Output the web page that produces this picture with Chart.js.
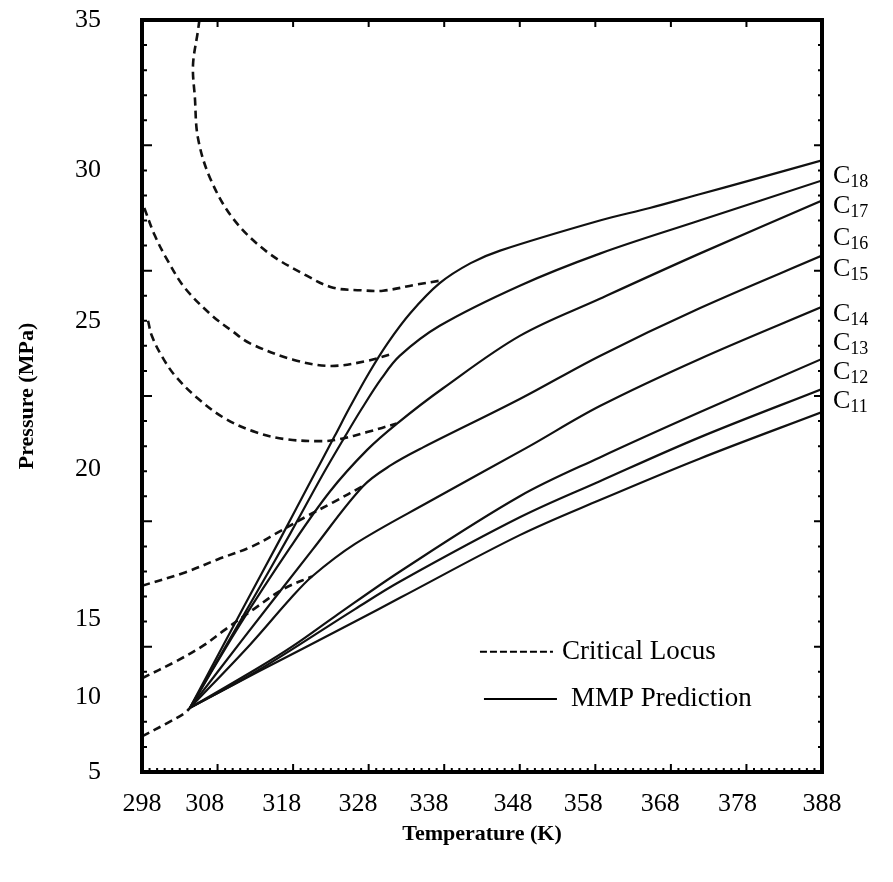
<!DOCTYPE html>
<html>
<head>
<meta charset="utf-8">
<title>MMP Prediction vs Temperature</title>
<script src="https://cdn.jsdelivr.net/npm/chart.js@4.4.1/dist/chart.umd.min.js"></script>
<style>
  html, body { margin: 0; padding: 0; background: #fff; }
</style>
</head>
<body>
<canvas id="mmpChart" width="893" height="882"></canvas>
<script>
// 目盛ラベル
const xTickLabels = ['298', '308', '318', '328', '338', '348', '358', '368', '378', '388'];
const yTickLabels = ['5', '10', '15', '20', '25', '30', '35'];

// MMP prediction  [T (K), P (MPa)]
const mmpC18 = [[304.35, 7.56], [311.4, 11.55], [316.3, 14.3], [320.5, 16.7], [323.5, 18.4], [325.5, 19.55], [328, 20.9], [330.5, 22.1], [333.5, 23.3], [337.4, 24.5], [341.5, 25.3], [345.4, 25.8], [358.6, 27.0], [365.2, 27.5], [371.8, 28.05], [378.5, 28.6], [388, 29.4]];
const mmpC17 = [[304.35, 7.56], [312.3, 11.7], [317.6, 14.5], [321.8, 16.8], [324.9, 18.4], [327.1, 19.5], [329.7, 20.7], [332.1, 21.6], [337.4, 22.8], [348, 24.4], [358.6, 25.68], [371.8, 27.0], [388, 28.6]];
const mmpC16 = [[304.35, 7.56], [311, 10.9], [317.6, 13.95], [322.9, 16.2], [327.8, 17.85], [331.75, 18.9], [337.8, 20.3], [348, 22.4], [358.6, 23.88], [371.8, 25.68], [388, 27.8]];
const mmpC15 = [[304.35, 7.56], [311.6, 10.4], [320.6, 13.88], [327.25, 16.4], [331, 17.25], [335.2, 17.95], [348, 19.88], [358.6, 21.6], [371.8, 23.5], [388, 25.6]];
const mmpC14 = [[304.35, 7.56], [312.3, 10.08], [317.6, 11.9], [320.5, 12.8], [326.2, 14.1], [336.1, 15.8], [349, 17.95], [358.6, 19.6], [371.8, 21.48], [388, 23.56]];
const mmpC13 = [[304.35, 7.56], [313.35, 9.15], [317.85, 10.0], [323.5, 11.2], [332.15, 13.0], [348, 16.0], [358.6, 17.55], [371.8, 19.35], [388, 21.48]];
const mmpC12 = [[304.35, 7.56], [313.35, 9.05], [326.2, 11.5], [332.15, 12.6], [348, 15.16], [358.6, 16.6], [371.8, 18.35], [388, 20.28]];
const mmpC11 = [[304.35, 7.56], [313.35, 9.0], [326.2, 11.0], [332.15, 11.95], [348, 14.45], [358.6, 15.85], [371.8, 17.5], [388, 19.36]];

// Critical locus  [T (K), P (MPa)]
const locus1 = [[305.6, 35], [305.4, 34.56], [304.75, 33.2], [305.0, 31.9], [305.4, 30.3], [307.0, 28.7], [310.0, 27.1], [314.5, 25.76], [319.8, 24.8], [323.3, 24.32], [326.9, 24.22], [329.9, 24.2], [334.4, 24.45], [337.4, 24.6]];
const locus2 = [[298.3, 27.5], [299.7, 26.4], [301.4, 25.4], [303.7, 24.3], [307.3, 23.2], [309.9, 22.6], [312.3, 22.1], [318, 21.45], [322.9, 21.2], [327.8, 21.4], [331.3, 21.7]];
const locus3 = [[298.8, 23.0], [299.3, 22.4], [300.6, 21.6], [302.4, 20.8], [305.4, 19.9], [309, 19.1], [313, 18.56], [316.9, 18.28], [321.8, 18.2], [324.2, 18.28], [327.8, 18.56], [331.7, 18.9]];
const locus4 = [[298, 12.43], [303.7, 12.96], [308, 13.48], [312.6, 14.0], [316, 14.56], [319.8, 15.2], [323.3, 15.76], [327.2, 16.4]];
const locus5 = [[298, 8.74], [302.4, 9.4], [305.9, 10.0], [309, 10.68], [312.8, 11.5], [316.7, 12.3], [320.5, 12.8]];
const locus6 = [[298, 6.42], [301.4, 6.96], [303.7, 7.36], [304.35, 7.56]];

const seriesNames = ['18', '17', '16', '15', '14', '13', '12', '11'];

// ラベルを置く位置（元の図に合わせる）
const xLabelAt = [298, 306.3, 316.5, 326.6, 336.0, 347.1, 356.4, 366.6, 376.8, 388];
const yLabelAt = [5, 8, 11.08, 17.08, 23, 29, 35];
const nameAt = [28.76, 27.56, 26.28, 25.04, 23.28, 22.12, 20.96, 19.8];

const serif = '"Liberation Serif", "Times New Roman", serif';
const toXY = pts => pts.map(p => ({ x: p[0], y: p[1] }));

function solidLine(label, pts) {
  return { label: label, data: toXY(pts), borderColor: '#111', borderWidth: 2.2, showLine: true, pointRadius: 0, tension: 0.35, fill: false };
}
function dashedLine(label, pts) {
  return { label: label, data: toXY(pts), borderColor: '#111', borderWidth: 2.6, borderDash: [8, 5], showLine: true, pointRadius: 0, tension: 0.35, fill: false };
}

// 枠・目盛・凡例・系列名
const framePlugin = {
  id: 'frame',
  afterDraw(chart) {
    const { ctx, chartArea: a, scales: { x, y } } = chart;
    ctx.save();
    ctx.strokeStyle = '#000';
    ctx.lineWidth = 4;
    ctx.strokeRect(a.left, a.top, a.right - a.left, a.bottom - a.top);

    ctx.lineWidth = 2;
    ctx.beginPath();
    for (let t = 298; t <= 388; t++) {
      const px = x.getPixelForValue(t);
      const major = (t - 298) % 10 === 0;
      ctx.moveTo(px, a.bottom);
      ctx.lineTo(px, a.bottom - (major ? 8 : 4));
      if (major) {
        ctx.moveTo(px, a.top);
        ctx.lineTo(px, a.top + 7);
      }
    }
    for (let p = 5; p <= 35; p++) {
      const py = y.getPixelForValue(p);
      const major = p % 5 === 0;
      ctx.moveTo(a.left, py);
      ctx.lineTo(a.left + (major ? 10 : 5), py);
      ctx.moveTo(a.right, py);
      ctx.lineTo(a.right - (major ? 8 : 4), py);
    }
    ctx.stroke();

    // 凡例
    const lx = a.left + (a.right - a.left) * 0.497;
    const ly1 = a.top + (a.bottom - a.top) * 0.84;
    const ly2 = a.top + (a.bottom - a.top) * 0.903;
    ctx.lineWidth = 2;
    ctx.setLineDash([7, 3]);
    ctx.beginPath();
    ctx.moveTo(lx, ly1);
    ctx.lineTo(lx + 73, ly1);
    ctx.stroke();
    ctx.setLineDash([]);
    ctx.beginPath();
    ctx.moveTo(lx + 4, ly2);
    ctx.lineTo(lx + 77, ly2);
    ctx.stroke();
    ctx.fillStyle = '#000';
    ctx.font = '27px ' + serif;
    ctx.textBaseline = 'middle';
    ctx.textAlign = 'left';
    ctx.fillText('Critical Locus', lx + 82, ly1);
    ctx.fillText('MMP Prediction', lx + 91, ly2);

    // C11〜C18
    seriesNames.forEach((n, i) => {
      const py = y.getPixelForValue(nameAt[i]);
      const cx = a.right + 11;
      ctx.font = '26px ' + serif;
      ctx.fillText('C', cx, py);
      const w = ctx.measureText('C').width;
      ctx.font = '18px ' + serif;
      ctx.fillText(n, cx + w, py + 6);
    });
    ctx.restore();
  }
};

const mmpConfig = {
  type: 'scatter',
  data: {
    datasets: [
      dashedLine('locus1', locus1),
      dashedLine('locus2', locus2),
      dashedLine('locus3', locus3),
      dashedLine('locus4', locus4),
      dashedLine('locus5', locus5),
      dashedLine('locus6', locus6),
      solidLine('C18', mmpC18),
      solidLine('C17', mmpC17),
      solidLine('C16', mmpC16),
      solidLine('C15', mmpC15),
      solidLine('C14', mmpC14),
      solidLine('C13', mmpC13),
      solidLine('C12', mmpC12),
      solidLine('C11', mmpC11)
    ]
  },
  options: {
    responsive: false,
    animation: false,
    layout: { padding: { top: 20, right: 71, left: 10, bottom: 30 } },
    plugins: {
      legend: { display: false },
      tooltip: { enabled: false }
    },
    scales: {
      x: {
        type: 'linear',
        min: 298,
        max: 388,
        afterBuildTicks: s => { s.ticks = xLabelAt.map(v => ({ value: v })); },
        afterFit: s => { s.height = 80; s.paddingLeft = 0; s.paddingRight = 0; },
        grid: { display: false, drawTicks: false },
        border: { display: false },
        ticks: {
          autoSkip: false,
          maxRotation: 0,
          padding: 17,
          color: '#000',
          font: { family: serif, size: 26 },
          callback: (v, i) => xTickLabels[i]
        },
        title: {
          display: true,
          text: 'Temperature (K)',
          color: '#000',
          font: { family: serif, size: 22, weight: 'bold' }
        }
      },
      y: {
        type: 'linear',
        min: 5,
        max: 35,
        afterBuildTicks: s => { s.ticks = yLabelAt.map(v => ({ value: v })); },
        afterFit: s => { s.width = 132; s.paddingTop = 0; s.paddingBottom = 0; },
        grid: { display: false, drawTicks: false },
        border: { display: false },
        ticks: {
          autoSkip: false,
          padding: 41,
          color: '#000',
          font: { family: serif, size: 26 },
          callback: (v, i) => yTickLabels[i]
        },
        title: {
          display: true,
          text: 'Pressure (MPa)',
          color: '#000',
          font: { family: serif, size: 22, weight: 'bold' }
        }
      }
    }
  },
  plugins: [framePlugin]
};

let mmpChart = new Chart(document.getElementById('mmpChart'), mmpConfig);
</script>
</body>
</html>
